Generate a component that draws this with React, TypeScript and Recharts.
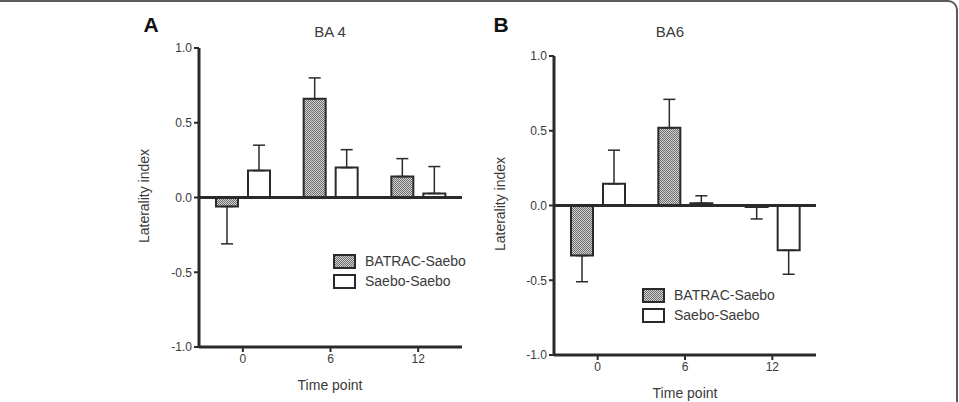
import React from "react"
import { BarChart, Bar, XAxis, YAxis, ErrorBar, ReferenceLine } from "recharts"

const timePoints = ["0", "6", "12"]
const yTicks = [-1, -0.5, 0, 0.5, 1]

// BA 4
const ba4Batrac = [-0.06, 0.66, 0.14]
const ba4BatracErr = [0.25, 0.14, 0.12]
const ba4Saebo = [0.18, 0.2, 0.027]
const ba4SaeboErr = [0.17, 0.12, 0.18]

// BA6
const ba6Batrac = [-0.335, 0.52, -0.01]
const ba6BatracErr = [0.175, 0.19, 0.08]
const ba6Saebo = [0.145, 0.015, -0.3]
const ba6SaeboErr = [0.225, 0.05, 0.16]

const seriesNames = ["BATRAC-Saebo", "Saebo-Saebo"]

const FONT = "'Liberation Sans', Arial, Helvetica, sans-serif"
const INK = "#2a2a2a"
const TEXT = "#3a3a3a"
const HATCH = "url(#hatch)"

// error bars only point away from zero, like the original figure
const oneSided = (v: number, e: number) => (v < 0 ? [e, 0] : [0, e])

function buildRows(batrac: number[], batracErr: number[], saebo: number[], saeboErr: number[]) {
  return timePoints.map((t, i) => ({
    t,
    batrac: batrac[i],
    batracErr: oneSided(batrac[i], batracErr[i]),
    saebo: saebo[i],
    saeboErr: oneSided(saebo[i], saeboErr[i]),
  }))
}

const ba4Rows = buildRows(ba4Batrac, ba4BatracErr, ba4Saebo, ba4SaeboErr)
const ba6Rows = buildRows(ba6Batrac, ba6BatracErr, ba6Saebo, ba6SaeboErr)

type PanelProps = {
  rows: ReturnType<typeof buildRows>
  left: number
  width: number
  marginLeft: number
  marginTop: number
  marginBottom: number
}

function Panel({ rows, left, width, marginLeft, marginTop, marginBottom }: PanelProps) {
  return (
    <div style={{ position: "absolute", left, top: 0 }}>
      <BarChart
        width={width}
        height={402}
        data={rows}
        margin={{ top: marginTop, right: 18, bottom: marginBottom, left: marginLeft }}
        barSize={22}
        barGap={10}
      >
        <XAxis
          dataKey="t"
          height={30}
          axisLine={{ stroke: INK, strokeWidth: 3 }}
          tickLine={{ stroke: INK, strokeWidth: 2 }}
          tickSize={5}
          tick={{ fill: TEXT, fontSize: 12, fontFamily: FONT }}
        />
        <YAxis
          width={40}
          type="number"
          domain={[-1, 1]}
          ticks={yTicks}
          interval={0}
          tickFormatter={(v: number) => v.toFixed(1)}
          axisLine={{ stroke: INK, strokeWidth: 3 }}
          tickLine={{ stroke: INK, strokeWidth: 2 }}
          tickSize={5}
          tick={{ fill: TEXT, fontSize: 12, fontFamily: FONT }}
        />
        <Bar dataKey="batrac" fill={HATCH} stroke={INK} strokeWidth={2} isAnimationActive={false}>
          <ErrorBar dataKey="batracErr" width={6} stroke={INK} strokeWidth={1.5} direction="y" />
        </Bar>
        <Bar dataKey="saebo" fill="#ffffff" stroke={INK} strokeWidth={2} isAnimationActive={false}>
          <ErrorBar dataKey="saeboErr" width={6} stroke={INK} strokeWidth={1.5} direction="y" />
        </Bar>
        <ReferenceLine y={0} stroke={INK} strokeWidth={3} />
      </BarChart>
    </div>
  )
}

function Legend({ left, top }: { left: number; top: number }) {
  return (
    <div style={{ position: "absolute", left, top, fontFamily: FONT, fontSize: 14, color: TEXT }}>
      {seriesNames.map((name, i) => (
        <div key={name} style={{ display: "flex", alignItems: "center", height: 20 }}>
          <svg width={23} height={15} style={{ marginRight: 9 }}>
            <rect x={1} y={1} width={21} height={13} fill={i === 0 ? HATCH : "#fff"} stroke={INK} strokeWidth={2} />
          </svg>
          <span>{name}</span>
        </div>
      ))}
    </div>
  )
}

function Text({ x, y, size, bold, children }: { x: number; y: number; size: number; bold?: boolean; children: React.ReactNode }) {
  return (
    <div
      style={{
        position: "absolute",
        left: x,
        top: y,
        transform: "translate(-50%, -50%)",
        whiteSpace: "nowrap",
        fontFamily: FONT,
        fontSize: size,
        fontWeight: bold ? 700 : 400,
        color: bold ? "#111" : TEXT,
      }}
    >
      {children}
    </div>
  )
}

function VText({ x, y, children }: { x: number; y: number; children: React.ReactNode }) {
  return (
    <div
      style={{
        position: "absolute",
        left: x,
        top: y,
        transform: "translate(-50%, -50%) rotate(-90deg)",
        whiteSpace: "nowrap",
        fontFamily: FONT,
        fontSize: 14,
        color: TEXT,
      }}
    >
      {children}
    </div>
  )
}

export default function App() {
  return (
    <div style={{ position: "absolute", left: 0, top: 0, width: 959, height: 402, overflow: "hidden", background: "#fff" }}>
      <svg width={0} height={0} style={{ position: "absolute" }}>
        <defs>
          <pattern id="hatch" width={2} height={2} patternUnits="userSpaceOnUse">
            <rect width={2} height={2} fill="#d2d2d2" />
            <rect width={1} height={1} fill="#6e6e6e" />
            <rect x={1} y={1} width={1} height={1} fill="#6e6e6e" />
          </pattern>
        </defs>
      </svg>

      <div
        style={{
          position: "absolute",
          left: -20,
          top: 0,
          width: 978,
          height: 440,
          boxSizing: "border-box",
          border: "2px solid #5a5a5a",
          borderRadius: 10,
        }}
      />

      <Panel rows={ba4Rows} left={130} width={350} marginLeft={29} marginTop={48} marginBottom={25} />
      <Panel rows={ba6Rows} left={480} width={354} marginLeft={34} marginTop={56} marginBottom={17} />

      <Text x={151} y={25} size={21} bold>A</Text>
      <Text x={330} y={31} size={15}>BA 4</Text>
      <VText x={144} y={196}>Laterality index</VText>
      <Text x={330} y={385} size={14}>Time point</Text>
      <Legend left={333} top={251} />

      <Text x={501} y={25} size={21} bold>B</Text>
      <Text x={670} y={31} size={15}>BA6</Text>
      <VText x={500} y={204}>Laterality index</VText>
      <Text x={685} y={393} size={14}>Time point</Text>
      <Legend left={642} top={285} />
    </div>
  )
}
